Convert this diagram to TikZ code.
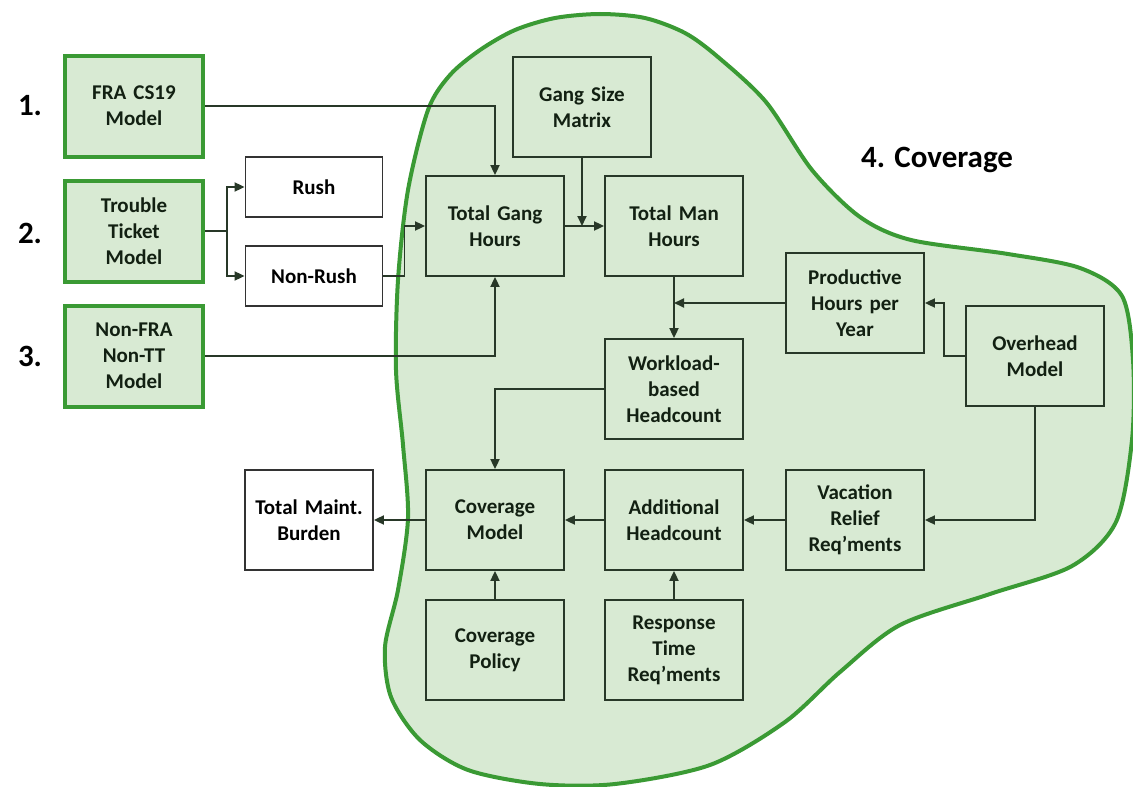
\documentclass[tikz,border=0pt]{standalone}
\usepackage{fontspec}
\setmainfont{Carlito}
\usetikzlibrary{arrows.meta}
\definecolor{blobfill}{RGB}{216,234,211}
\definecolor{blobline}{RGB}{58,154,52}
\definecolor{boxline}{RGB}{40,56,40}
\definecolor{boxtext}{RGB}{18,32,18}
\begin{document}
\begin{tikzpicture}[x=1pt,y=-1pt,
  font=\bfseries\fontsize{21}{26}\selectfont,
  inbox/.style={draw=boxline,line width=1.8pt,fill=blobfill,text=boxtext,
    minimum width=138pt,minimum height=100pt,text width=134pt,align=center,inner sep=0pt},
  modelbox/.style={inbox,draw=blobline,line width=4pt,minimum height=101pt},
  whitebox/.style={draw=black!80,line width=1.8pt,fill=white,text=black,
    minimum width=137pt,minimum height=60pt,text width=130pt,align=center,inner sep=0pt},
  numlabel/.style={font=\bfseries\fontsize{31}{36}\selectfont},
  arr/.style={draw=boxline,line width=1.8pt,-{Triangle[length=10pt,width=9pt]}}]
\useasboundingbox (0,0) rectangle (1133,787);
%облако
\draw[blobline,fill=blobfill,line width=4pt] plot[smooth cycle,tension=0.5] coordinates{
 (600,14) (645,18) (685,33) (718,57) (766,102) (812,170) (860,217) (911,240) (1008,254)
 (1080,268) (1122,296) (1133,360) (1132,440) (1116,522) (1072,566) (990,594)
 (900,625) (840,672) (785,722) (710,765) (615,784) (540,784) (468,770) (420,740)
 (391,697) (385,647) (398,590) (408,518) (403,445) (396,370) (398,280) (408,190)
 (428,110) (450,75) (480,50) (515,30) (555,18)};
%модели
\node[modelbox] (fra) at (134,106) {FRA CS19\\Model};
\node[modelbox] (ttm) at (134,231) {Trouble\\Ticket\\Model};
\node[modelbox] (nfm) at (134,356) {Non-FRA\\Non-TT\\Model};
\node[numlabel] (n1) at (30,106) {1.};
\node[numlabel] (n2) at (30,233) {2.};
\node[numlabel] (n3) at (30,356) {3.};
\node[numlabel] (n4) at (937,160) {4. Coverage};
\node[whitebox] (rush) at (314,187) {Rush};
\node[whitebox] (nonrush) at (314,276) {Non-Rush};
\node[whitebox,minimum width=128pt,minimum height=100pt,text width=124pt] (tmb) at (309,520) {Total Maint.\\Burden};
%внутри
\node[inbox] (gsm) at (582,107) {Gang Size\\Matrix};
\node[inbox] (tgh) at (495,226) {Total Gang\\Hours};
\node[inbox] (tmh) at (674,226) {Total Man\\Hours};
\node[inbox] (phy) at (855,303) {Productive\\Hours per\\Year};
\node[inbox] (ovh) at (1035,356) {Overhead\\Model};
\node[inbox] (wbh) at (674,389) {Workload-\\based\\Headcount};
\node[inbox] (cvm) at (495,520) {Coverage\\Model};
\node[inbox] (adh) at (674,520) {Additional\\Headcount};
\node[inbox] (vrr) at (855,520) {Vacation\\Relief\\Req’ments};
\node[inbox] (cvp) at (495,650) {Coverage\\Policy};
\node[inbox] (rtr) at (674,650) {Response\\Time\\Req’ments};
%стрелки
\draw[arr] (fra) -| (tgh);
\draw[arr] (ttm.east) -- ++(22,0) |- (rush);
\draw[arr] (ttm.east) -- ++(22,0) |- (nonrush);
\draw[arr] (nonrush.east) -- ++(21,0) |- (tgh.west);
\draw[arr] (nfm) -| (tgh);
\draw[arr] (tgh) -- (tmh);
\draw[arr] (gsm) -- (gsm |- tgh);
\draw[arr] (tmh) -- (wbh);
\draw[arr] (phy) -- (phy -| tmh);
\draw[arr] (ovh.west) -- ++(-21,0) |- (phy.east);
\draw[arr] (ovh) |- (vrr);
\draw[arr] (vrr) -- (adh);
\draw[arr] (adh) -- (cvm);
\draw[arr] (cvm) -- (tmb);
\draw[arr] (wbh) -| (cvm);
\draw[arr] (cvp) -- (cvm);
\draw[arr] (rtr) -- (adh);
\end{tikzpicture}
\end{document}
